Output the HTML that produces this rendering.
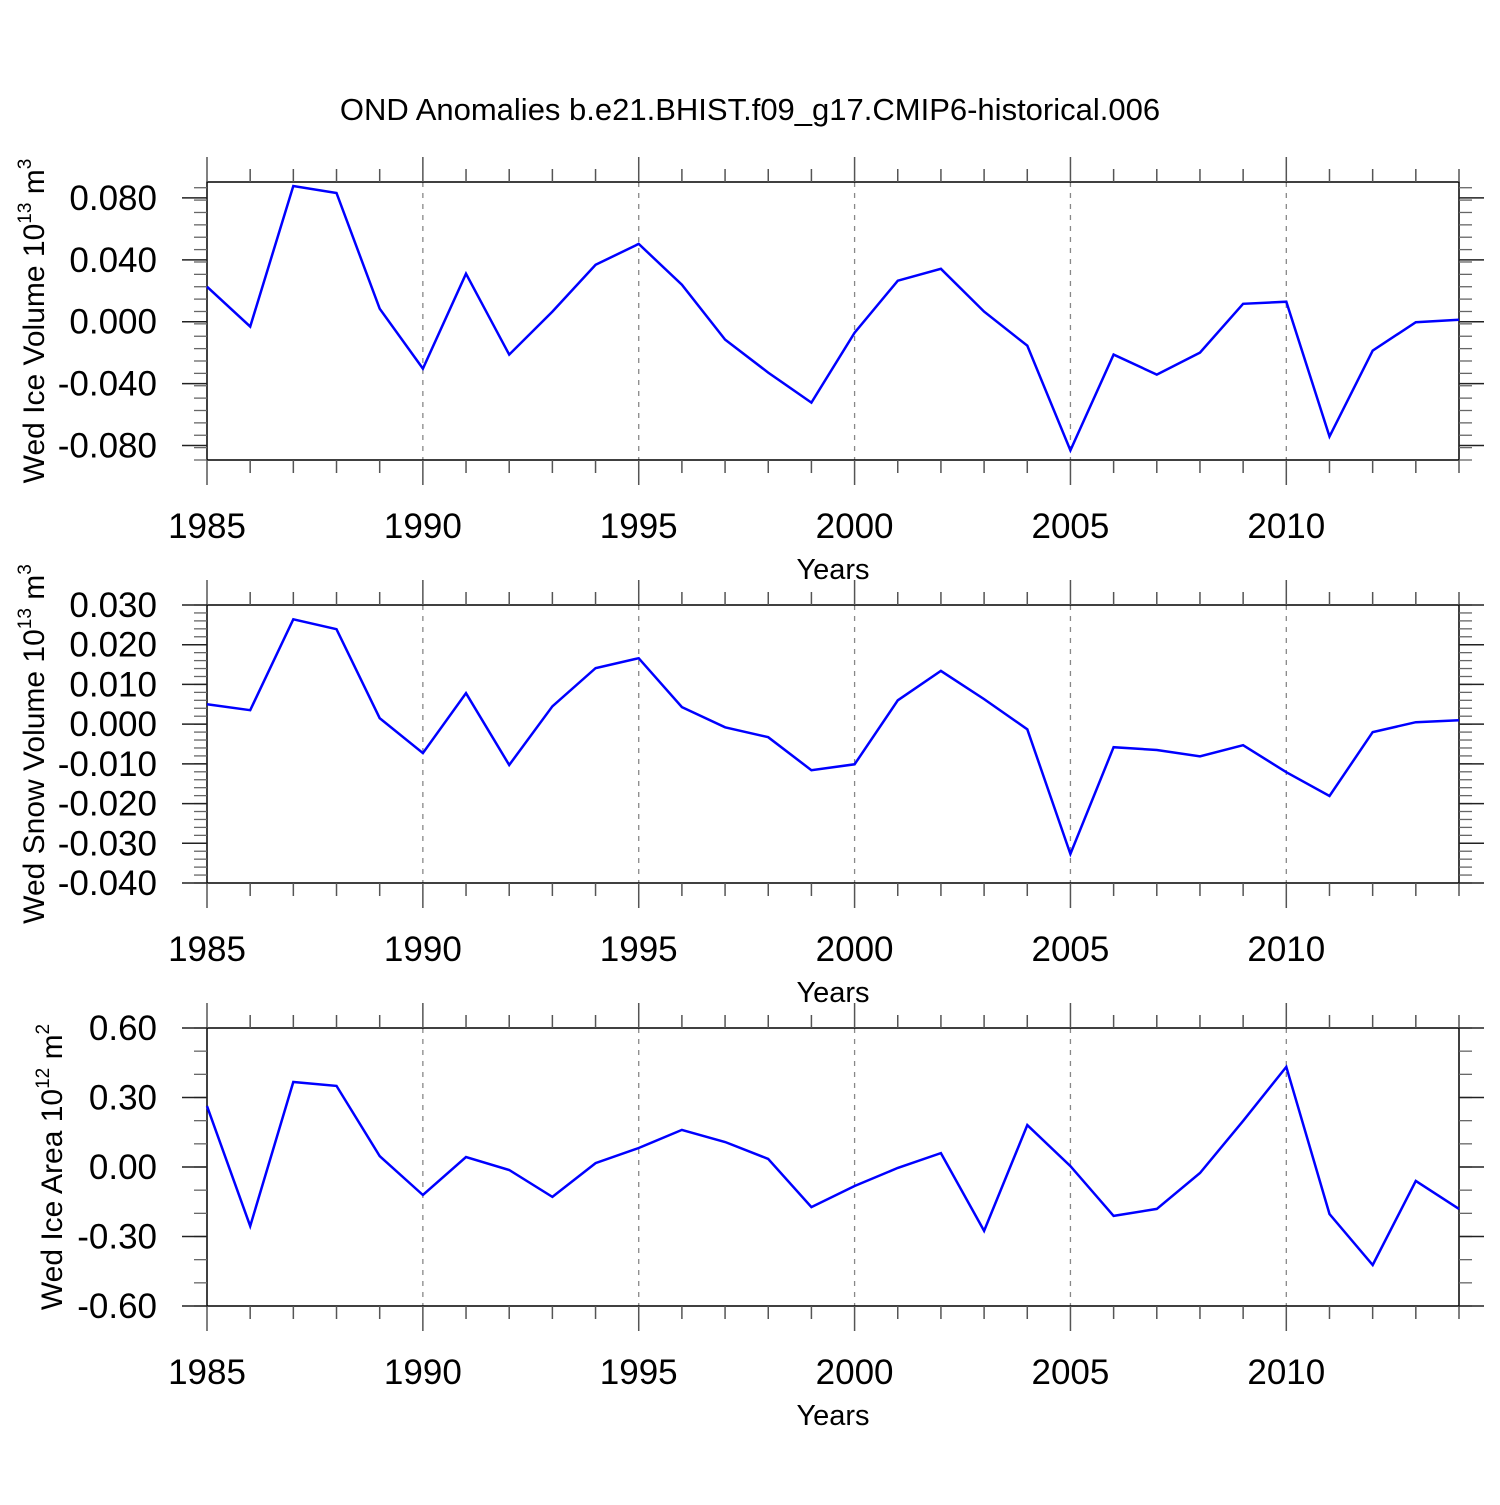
<!DOCTYPE html>
<html><head><meta charset="utf-8"><style>
html,body{margin:0;padding:0;background:#fff}
svg text{font-family:"Liberation Sans",Arial,sans-serif;fill:#000}
</style></head><body>
<svg id="chart" width="1500" height="1500" viewBox="0 0 1500 1500" xmlns="http://www.w3.org/2000/svg">
<rect width="1500" height="1500" fill="#fff"/>
<text x="750" y="120" font-size="31" text-anchor="middle">OND Anomalies b.e21.BHIST.f09_g17.CMIP6-historical.006</text>
</svg>
<script>
const years = [1985,1986,1987,1988,1989,1990,1991,1992,1993,1994,1995,1996,1997,1998,1999,2000,2001,2002,2003,2004,2005,2006,2007,2008,2009,2010,2011,2012,2013,2014];
const xTickLabels = [1985,1990,1995,2000,2005,2010];
const iceVolume = [0.0226,-0.0032,0.0877,0.0832,0.0084,-0.0303,0.031,-0.0213,0.0065,0.0368,0.0503,0.0239,-0.0116,-0.0329,-0.0523,-0.0071,0.0265,0.0342,0.0065,-0.0155,-0.0832,-0.0213,-0.0342,-0.02,0.0116,0.0129,-0.0742,-0.0187,-0.0003,0.0013];
const snowVolume = [0.005,0.0035,0.0264,0.0239,0.0015,-0.0073,0.0078,-0.0103,0.0045,0.0141,0.0166,0.0043,-0.0008,-0.0033,-0.0116,-0.0101,0.006,0.0134,0.0063,-0.0013,-0.0327,-0.0058,-0.0065,-0.0081,-0.0053,-0.0121,-0.0181,-0.002,0.0005,0.001];
const iceArea = [0.263,-0.255,0.367,0.35,0.047,-0.121,0.043,-0.013,-0.129,0.017,0.082,0.16,0.108,0.035,-0.173,-0.082,-0.004,0.06,-0.276,0.181,0.004,-0.211,-0.181,-0.026,0.199,0.432,-0.203,-0.423,-0.06,-0.181];
const volTicks = [0.08,0.04,0,-0.04,-0.08];
const snowTicks = [0.03,0.02,0.01,0,-0.01,-0.02,-0.03,-0.04];
const areaTicks = [0.6,0.3,0,-0.3,-0.6];

const NS="http://www.w3.org/2000/svg";
const svg=document.getElementById('chart');
function mk(tag,attrs,parent){const e=document.createElementNS(NS,tag);for(const k in attrs)e.setAttribute(k,attrs[k]);(parent||svg).appendChild(e);return e;}
const X0=207,X1=1459;
function xs(yr){return X0+(yr-1985)*(X1-X0)/(2014-1985);}

function panel(o){
  const g=mk('g',{});
  
  
  const ys=v=>o.top+(o.vmax-v)*(o.bot-o.top)/(o.vmax-o.vmin);
  xTickLabels.slice(1).forEach(y=>{
    const l=mk('line',{x1:xs(y),x2:xs(y),y1:o.top,y2:o.bot,stroke:'#888','stroke-width':1.3,'stroke-dasharray':'5,6'},g);
    
    
  });
  const b=mk('rect',{x:X0,y:o.top,width:X1-X0,height:o.bot-o.top,fill:'none',stroke:'#000','stroke-width':1.5},g);
  
  
  years.forEach(y=>{
    const len=(y%5===0)?25:13;
    const x=xs(y);
    mk('line',{x1:x,x2:x,y1:o.top,y2:o.top-len,stroke:'#555','stroke-width':1.5},g);
    mk('line',{x1:x,x2:x,y1:o.bot,y2:o.bot+len,stroke:'#555','stroke-width':1.5},g);
  });
  xTickLabels.forEach(y=>{
    const t=mk('text',{x:xs(y),y:o.bot+78,'font-size':35,'text-anchor':'middle'},g);
    t.textContent=y;
    
    
  });
  const xt=mk('text',{x:833,y:o.bot+119,'font-size':29,'text-anchor':'middle'},g);
  xt.textContent='Years';
  
  
  const n=Math.round((o.vmax-o.vmin)/o.minor);
  for(let i=0;i<=n;i++){
    const v=o.vmin+i*o.minor;const y=ys(v);
    mk('line',{x1:X0,x2:X0-13,y1:y,y2:y,stroke:'#666','stroke-width':1.3},g);
    mk('line',{x1:X1,x2:X1+13,y1:y,y2:y,stroke:'#666','stroke-width':1.3},g);
  }
  o.ticks.forEach(v=>{
    const y=ys(v);
    mk('line',{x1:X0,x2:X0-25,y1:y,y2:y,stroke:'#222','stroke-width':1.5},g);
    mk('line',{x1:X1,x2:X1+25,y1:y,y2:y,stroke:'#222','stroke-width':1.5},g);
    const t=mk('text',{x:157,y:y+12,'font-size':35,'text-anchor':'end'},g);
    t.textContent=v.toFixed(o.dec);
    
    
  });
  const yt=mk('text',{transform:`translate(${o.tx},${(o.top+o.bot)/2}) rotate(-90)`,'font-size':30,'text-anchor':'middle'},g);
  yt.innerHTML=o.title;
  
  
  const pts=o.data.map((v,i)=>xs(years[i]).toFixed(1)+','+ys(v).toFixed(1)).join(' ');
  const pl=mk('polyline',{points:pts,fill:'none',stroke:'#0000ff','stroke-width':2.5,'stroke-linejoin':'miter'},g);
  
  
}
panel({name:'ice-volume-panel',top:182,bot:460,vmax:0.0903,vmin:-0.0894,minor:0.008,ticks:volTicks,dec:3,data:iceVolume,tx:44,
  title:'Wed Ice Volume 10<tspan dy="-13" font-size="19">13</tspan><tspan dy="13"> m</tspan><tspan dy="-13" font-size="19">3</tspan>'});
panel({name:'snow-volume-panel',top:605,bot:883,vmax:0.03,vmin:-0.04,minor:0.002,ticks:snowTicks,dec:3,data:snowVolume,tx:44,
  title:'Wed Snow Volume 10<tspan dy="-13" font-size="19">13</tspan><tspan dy="13"> m</tspan><tspan dy="-13" font-size="19">3</tspan>'});
panel({name:'ice-area-panel',top:1028,bot:1306,vmax:0.6,vmin:-0.6,minor:0.1,ticks:areaTicks,dec:2,data:iceArea,tx:62,
  title:'Wed Ice Area 10<tspan dy="-13" font-size="19">12</tspan><tspan dy="13"> m</tspan><tspan dy="-13" font-size="19">2</tspan>'});
</script>
</body></html>
